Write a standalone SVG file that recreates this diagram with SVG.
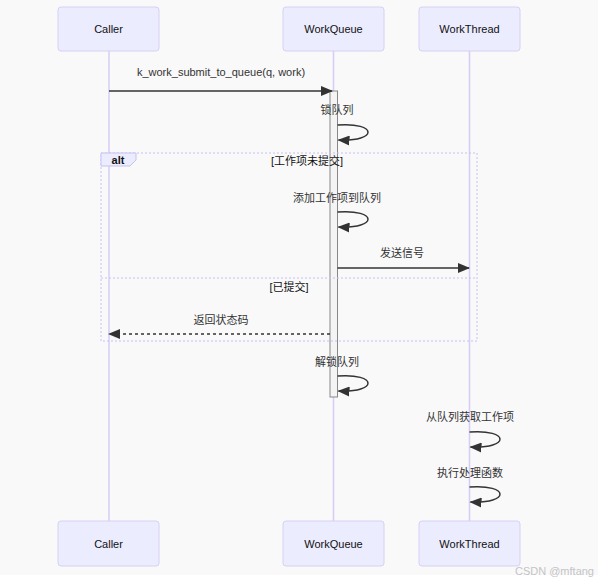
<svg xmlns="http://www.w3.org/2000/svg" width="598" height="582" viewBox="0 0 598 582">
<defs>
<style>
.actor{fill:#ECECFF;stroke:#d6d0f5;stroke-width:1}
.life{stroke:#d6ccf5;stroke-width:1.5}
.t{font-family:"Liberation Sans","Noto Sans CJK SC",sans-serif;font-size:11px;fill:#333;text-anchor:middle}
.an{font-family:"Liberation Sans",sans-serif;font-size:11px;fill:#111;text-anchor:middle}
.cond{font-family:"Liberation Sans","Noto Sans CJK SC",sans-serif;font-size:11px;fill:#111;text-anchor:middle}
.msg{stroke:#333;stroke-width:1.5;fill:none}
.dash{stroke-dasharray:3,3}
.alt{fill:none;stroke:#c8c0ef;stroke-width:1;stroke-dasharray:2,2}
</style>
<marker id="ah" viewBox="0 0 12 10" refX="11" refY="5" markerWidth="12" markerHeight="10" markerUnits="userSpaceOnUse" orient="auto">
<path d="M0,0 L12,5 L0,10 z" fill="#333"/>
</marker>
</defs>
<rect x="0" y="0" width="598" height="575" fill="#f9f9fa"/>
<g id="lifelines">
<line class="life" x1="109" y1="51" x2="109" y2="521"/>
<line class="life" x1="333.5" y1="51" x2="333.5" y2="521"/>
<line class="life" x1="469.5" y1="51" x2="469.5" y2="521"/>
</g>
<g id="caller-top"><rect class="actor" x="58" y="7" width="101" height="44" rx="3"/><text class="an" x="108.5" y="33">Caller</text></g>
<g id="workqueue-top"><rect class="actor" x="283" y="7" width="101" height="44" rx="3"/><text class="an" x="333.5" y="33">WorkQueue</text></g>
<g id="workthread-top"><rect class="actor" x="419" y="7" width="101" height="44" rx="3"/><text class="an" x="469.5" y="33">WorkThread</text></g>
<g id="caller-bottom"><rect class="actor" x="58" y="521" width="101" height="45" rx="3"/><text class="an" x="108.5" y="548">Caller</text></g>
<g id="workqueue-bottom"><rect class="actor" x="283" y="521" width="101" height="45" rx="3"/><text class="an" x="333.5" y="548">WorkQueue</text></g>
<g id="workthread-bottom"><rect class="actor" x="419" y="521" width="101" height="45" rx="3"/><text class="an" x="469.5" y="548">WorkThread</text></g>
<g id="activation"><rect x="330" y="91" width="7.5" height="306" fill="#f4f4f4" stroke="#888" stroke-width="1"/></g>
<g id="alt">
<rect class="alt" x="101" y="153" width="376" height="188"/>
<line class="alt" x1="101" y1="278" x2="477" y2="278"/>
<path d="M101,153 L136,153 L136,160 L130,166 L101,166 Z" fill="#ECECFF" stroke="#c8c0ef" stroke-width="1"/>
<text class="an" x="118" y="164" style="font-weight:bold">alt</text>
<text class="cond" x="307" y="165">[工作项未提交]</text>
<text class="cond" x="289" y="291">[已提交]</text>
</g>
<g id="connectors">
<text class="t" x="221" y="76">k_work_submit_to_queue(q, work)</text>
<line class="msg" x1="109" y1="91" x2="332" y2="91" marker-end="url(#ah)"/>
<text class="t" x="337" y="114">锁队列</text>
<path class="msg" d="M337.5,125 C378,122 378,142 338.5,140" marker-end="url(#ah)"/>
<text class="t" x="337" y="202">添加工作项到队列</text>
<path class="msg" d="M337.5,212 C378,209 378,229 338.5,227" marker-end="url(#ah)"/>
<text class="t" x="402" y="257">发送信号</text>
<line class="msg" x1="337.5" y1="268" x2="469" y2="268" marker-end="url(#ah)"/>
<text class="t" x="221" y="324">返回状态码</text>
<line class="msg dash" x1="330" y1="334" x2="109" y2="334" marker-end="url(#ah)"/>
<text class="t" x="337" y="366">解锁队列</text>
<path class="msg" d="M337.5,376 C378,373 378,393 338.5,391" marker-end="url(#ah)"/>
<text class="t" x="470" y="421">从队列获取工作项</text>
<path class="msg" d="M469.5,432 C510,429 510,449 470.5,447" marker-end="url(#ah)"/>
<text class="t" x="470" y="477">执行处理函数</text>
<path class="msg" d="M469.5,487 C510,484 510,504 470.5,502" marker-end="url(#ah)"/>
</g>
<text x="594" y="575" style="font-family:'Liberation Sans',sans-serif;font-size:11px;fill:#c4c4c4;text-anchor:end">CSDN @mftang</text>
</svg>
